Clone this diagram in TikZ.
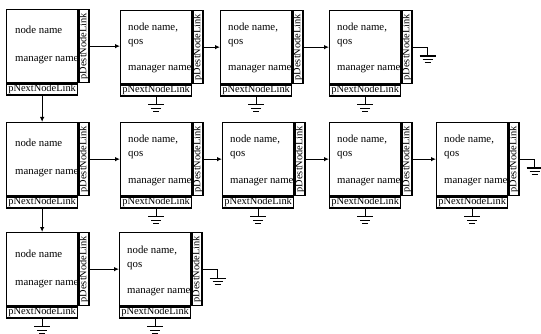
\documentclass[tikz,border=0pt]{standalone}
\usepackage{fontspec}
\setmainfont{Liberation Serif}
\usetikzlibrary{arrows.meta,calc}
\tikzset{
  mainbox/.style={draw, line width=1.3pt, minimum width=71pt, minimum height=73pt, inner sep=0pt, anchor=north west},
  deststrip/.style={draw, line width=1.3pt, minimum width=10pt, minimum height=73pt, inner sep=0pt, anchor=north west},
  nextstrip/.style={draw, line width=1.3pt, minimum width=71pt, minimum height=11pt, inner sep=0pt, anchor=north west, font=\fontsize{10.4}{11}\selectfont},
  striptext/.style={rotate=90, inner sep=0pt, font=\fontsize{10.4}{11}\selectfont},
  boxtext/.style={anchor=base west, inner sep=0pt, font=\fontsize{10.8}{11}\selectfont},
  link/.style={line width=1pt, -{Latex[length=5pt,width=4.5pt]}},
  wire/.style={line width=1pt},
  gnd/.pic={\draw[line width=1.3pt] (-8,0) -- (8,0);
            \draw[line width=0.9pt] (-5,3.5) -- (5,3.5);
            \draw[line width=0.9pt] (-3,6.5) -- (3,6.5);}
}
% name, x, y
\newcommand{\lnframe}[3]{%
  \node[mainbox] (#1) at (#2,#3) {};
  \node[deststrip] (#1d) at (#1.north east) {};
  \node[striptext] (#1dt) at (#1d.center) {pDestNodeLink};
  \node[nextstrip] (#1n) at (#1.south west) {pNextNodeLink};
}
\newcommand{\headbox}[3]{%
  \lnframe{#1}{#2}{#3}
  \node[boxtext] (#1a) at ($(#1.north west)+(9,25)$) {node name};
  \node[boxtext] (#1b) at ($(#1.north west)+(9,53)$) {manager name};
}
\newcommand{\qosbox}[3]{%
  \lnframe{#1}{#2}{#3}
  \node[boxtext] (#1a) at ($(#1.north west)+(8,21)$) {node name,};
  \node[boxtext] (#1c) at ($(#1.north west)+(8,35)$) {qos};
  \node[boxtext] (#1b) at ($(#1.north west)+(8,61)$) {manager name};
}
\newcommand{\gndbelow}[1]{%
  \coordinate (#1g) at ($(#1n.south)+(0,8)$);
  \draw[wire] (#1n.south) -- (#1g);
  \pic at (#1g) {gnd};
}
\newcommand{\gndright}[1]{%
  \coordinate (#1r) at ($(#1d.east)+(15,0)$);
  \coordinate (#1rg) at ($(#1r)+(0,9)$);
  \draw[wire] (#1d.east) -- (#1r) -- (#1rg);
  \pic at (#1rg) {gnd};
}
\begin{document}
\begin{tikzpicture}[x=1pt,y=-1pt]
\useasboundingbox (0,0) rectangle (541,334);
% row 1
\headbox{a1}{6}{9}
\qosbox{a2}{120}{10}
\qosbox{a3}{220}{10}
\qosbox{a4}{329}{10}
% row 2
\headbox{b1}{6}{122}
\qosbox{b2}{120}{122}
\qosbox{b3}{222}{122}
\qosbox{b4}{329}{122}
\qosbox{b5}{436}{122}
% row 3
\headbox{c1}{6}{232}
\qosbox{c2}{119}{232}
% links
\draw[link] (a1d.east) -- (a1d.east -| a2.west);
\draw[link] (a2d.east) -- (a2d.east -| a3.west);
\draw[link] (a3d.east) -- (a3d.east -| a4.west);
\draw[link] (b1d.east) -- (b1d.east -| b2.west);
\draw[link] (b2d.east) -- (b2d.east -| b3.west);
\draw[link] (b3d.east) -- (b3d.east -| b4.west);
\draw[link] (b4d.east) -- (b4d.east -| b5.west);
\draw[link] (c1d.east) -- (c1d.east -| c2.west);
\draw[link] (a1n.south) -- (b1.north);
\draw[link] (b1n.south) -- (c1.north);
% grounds
\gndright{a4}
\gndright{b5}
\gndright{c2}
\gndbelow{a2}
\gndbelow{a3}
\gndbelow{a4}
\gndbelow{b2}
\gndbelow{b3}
\gndbelow{b4}
\gndbelow{b5}
\gndbelow{c1}
\gndbelow{c2}
\end{tikzpicture}
\end{document}
